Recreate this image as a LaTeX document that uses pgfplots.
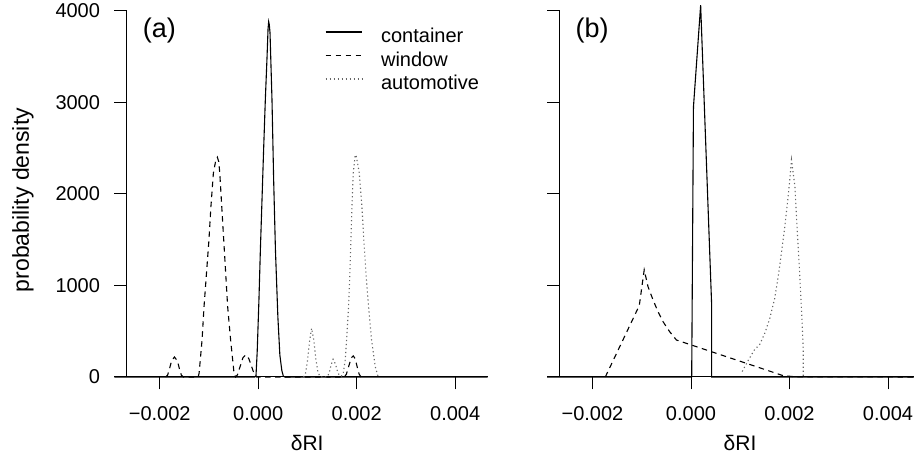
\documentclass[border=0pt]{standalone}
\usepackage{fontspec}
\setmainfont{Liberation Sans}
\usepackage{pgfplots}
\pgfplotsset{compat=1.18}

\pgfplotsset{
  panel/.style={
    scale only axis, width=361pt, height=366.3pt,
    xmin=-0.00267, xmax=0.00466, ymin=0, ymax=4000,
    clip=false,
    axis x line*=bottom, axis y line*=left,
    axis line style={line width=1pt, black},
    xtick={-0.002,0,0.002,0.004},
    xticklabels={−0.002,0.000,0.002,0.004},
    ytick={0,1000,2000,3000,4000},
    scaled x ticks=false, scaled y ticks=false,
    tick align=outside, major tick length=12.5pt,
    every tick/.style={black, line width=1pt},
    tick label style={font=\fontsize{20}{24}\selectfont, inner sep=0pt},
    xticklabel style={anchor=base, yshift=-31pt},
    yticklabel style={anchor=east, xshift=-14pt},
    xlabel={δRI},
    xlabel style={font=\fontsize{21}{25}\selectfont, at={(rel axis cs:0.5,0)}, anchor=base, yshift=-74pt, inner sep=0pt},
  },
  cont/.style={black, line width=1.1pt},
  wind/.style={black, line width=1.1pt, dash pattern=on 5.5pt off 4.5pt},
  auto/.style={black!60, line width=1.1pt, dash pattern=on 1.2pt off 2.8pt},
}

\begin{document}
\begin{tikzpicture}[x=1pt,y=1pt]
\useasboundingbox (0,0) rectangle (914,458);

% ---------------- panel (a) ----------------
\begin{axis}[panel, at={(126.7pt,81pt)}, anchor=south west,
  yticklabels={0,1000,2000,3000,4000},
  legend style={draw=none, fill=none, at={(rel axis cs:0.5493,0.9590)}, anchor=north west,
    inner sep=0pt, outer sep=0pt, row sep=0pt, column sep=18.3pt,
    font=\fontsize{20}{24}\selectfont,
    nodes={inner sep=0pt, text height=16.95pt, text depth=6.55pt}},
  legend cell align=left,
  legend image code/.code={\draw[#1] (0pt,5.5pt) -- (36.7pt,5.5pt);},
]
\addplot[cont] coordinates {
(-0.00292,0) (-0.00007,0) (-0.000045,10) (-0.00002,280) (0.000015,840) (0.000045,1400)
(0.000077,1930) (0.00011,2480) (0.000145,3030) (0.00018,3500) (0.0002,3800) (0.000213,3880)
(0.000225,3850) (0.00024,3760) (0.00028,3030) (0.000314,2150) (0.00035,1390) (0.0004,650)
(0.00044,240) (0.00048,70) (0.00051,10) (0.00054,0) (0.00466,0)};
\addlegendentry{container}
\addplot[wind] coordinates {
(-0.00188,0) (-0.00184,20) (-0.0018,90) (-0.00176,175) (-0.0017,218) (-0.00164,175)
(-0.0016,90) (-0.00156,20) (-0.00152,0) (-0.00122,0) (-0.0012,40) (-0.00114,404)
(-0.0011,768) (-0.00105,1133) (-0.001,1497) (-0.00096,1861) (-0.00091,2226) (-0.00086,2370)
(-0.00083,2401) (-0.0008,2350) (-0.00078,2226) (-0.00074,1861) (-0.0007,1497) (-0.00066,1133)
(-0.00062,768) (-0.00056,404) (-0.00049,40) (-0.00046,0) (-0.00042,25) (-0.00037,110)
(-0.00031,210) (-0.00025,242) (-0.00019,200) (-0.00013,110) (-0.00008,30) (-0.00003,0)
(0.00175,0) (0.00179,30) (0.00184,120) (0.00189,210) (0.00193,230) (0.00197,200)
(0.00201,110) (0.00205,30) (0.00209,0)};
\addlegendentry{window}
\addplot[auto] coordinates {
(0.00092,0) (0.00096,40) (0.001,170) (0.00104,380) (0.001085,532) (0.00113,400)
(0.00117,200) (0.00121,60) (0.00125,10) (0.00128,0) (0.0014,0) (0.00144,40)
(0.00148,130) (0.00152,193) (0.00157,140) (0.00161,60) (0.00165,15) (0.00169,10)
(0.001727,40) (0.001767,186) (0.001795,404) (0.001835,768) (0.001862,1133) (0.001883,1497)
(0.001903,1861) (0.00193,2226) (0.00197,2426) (0.00199,2410) (0.00202,2330) (0.002052,2226)
(0.002106,1861) (0.002146,1497) (0.002187,1133) (0.002241,768) (0.002302,404) (0.002377,113)
(0.002424,22) (0.00245,0)};
\addlegendentry{automotive}
\end{axis}
\node[anchor=west, inner sep=0pt, font=\fontsize{27}{32}\selectfont] at (142.7,427) {(a)};
\node[rotate=90, inner sep=0pt, font=\fontsize{23}{27}\selectfont] at (23,258) {probability density};

% ---------------- panel (b) ----------------
\begin{axis}[panel, at={(559.5pt,81pt)}, anchor=south west,
  yticklabels={},
]
\addplot[cont] coordinates {
(-0.00292,0) (0.000014,0) (0.00005,2950) (0.000196,4060) (0.00042,776) (0.00042,0) (0.00466,0)};
\addplot[wind] coordinates {
(-0.00174,0) (-0.00105,780) (-0.00095,1170) (-0.000873,987) (-0.000771,842) (-0.00067,714)
(-0.000569,605) (-0.000433,495) (-0.000296,404) (0.00187,15) (0.0021,3) (0.00466,0)};
\addplot[auto] coordinates {
(0.00104,60) (0.00115,170) (0.00128,290) (0.0014,360) (0.0015,480) (0.0016,640)
(0.0017,860) (0.00178,1130) (0.00184,1370) (0.0019,1620) (0.00195,1860) (0.002,2120)
(0.00204,2372) (0.00211,2080) (0.00216,1570) (0.0022,1200) (0.00225,660) (0.00228,295)
(0.00228,0)};
\end{axis}
\node[anchor=west, inner sep=0pt, font=\fontsize{27}{32}\selectfont] at (575.5,427) {(b)};
\end{tikzpicture}
\end{document}
